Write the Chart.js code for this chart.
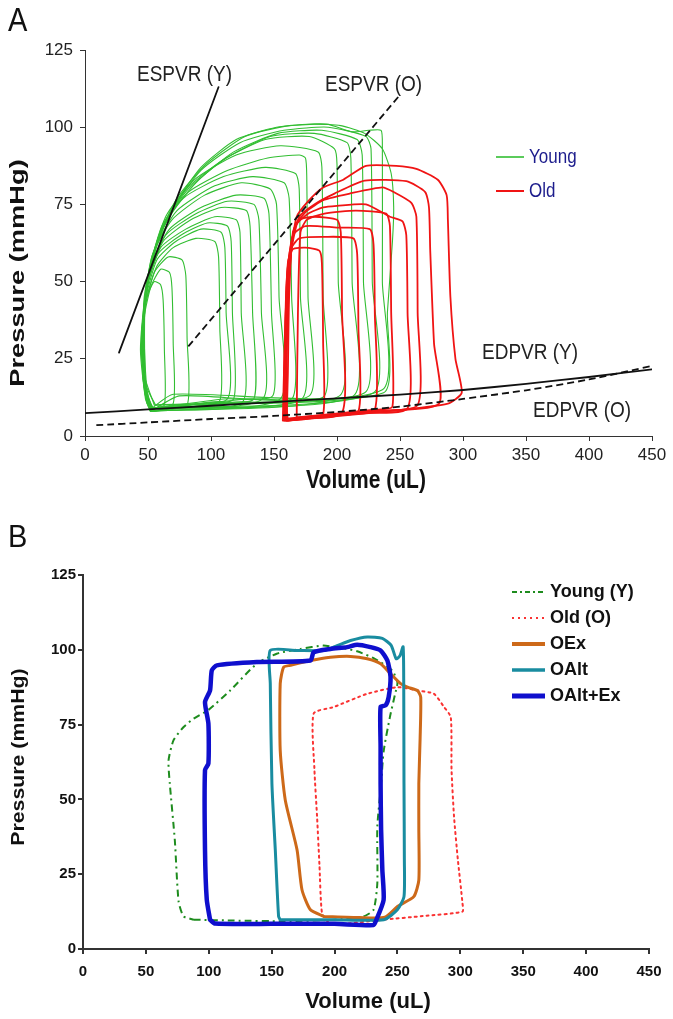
<!DOCTYPE html>
<html>
<head>
<meta charset="utf-8">
<title>PV loops</title>
<script src="https://cdn.jsdelivr.net/npm/chart.js@4.4.1/dist/chart.umd.min.js"></script>
<style>
  html, body { margin: 0; padding: 0; background: #fff; }
  #wrap { position: relative; width: 673px; height: 1019px; }
  canvas { position: absolute; left: 0; top: 0; }
</style>
</head>
<body>
<div id="wrap">
  <canvas id="chartA" width="673" height="1019"></canvas>
  <canvas id="chartB" width="673" height="1019"></canvas>
</div>
<script>
'use strict';

// ---- axis ticks ----
const volTicks = [0, 50, 100, 150, 200, 250, 300, 350, 400, 450];
const pressTicks = [0, 25, 50, 75, 100, 125];

// ---- panel A : pressure-volume loops [volume uL, pressure mmHg] ----
const youngLoopsA = [
  [[52,9],[63,10],[63,28],[62,44],[60,49],[55,50],[49,45],[45,34],[46,19],[49,11],[52,9]],
  [[53,9],[70,10.5],[70,30],[69,48],[67,53],[60,54],[52,48],[46,36],[46,19],[50,11],[53,9]],
  [[52,8],[81,10],[81,32],[80,52],[77,57],[66,58],[55,53],[47,40],[46,21],[49,11],[52,8]],
  [[54,9],[80,10],[107,11.5],[107,35],[106,58],[103,63],[88,64],[70,61],[57,55],[48,43],[45,26],[49,12],[54,9]],
  [[53,9],[113,12],[112,40],[111,61],[108,66],[92,67],[72,63],[57,57],[47,42],[46,22],[50,11],[53,9]],
  [[52,8],[90,10.5],[118,12],[117,40],[116,63],[113,68],[97,69],[76,65],[58,59],[48,46],[44,28],[48,12],[52,8]],
  [[54,9],[125,11],[124,40],[123,66],[120,70],[103,71],[80,67],[60,61],[49,48],[45,30],[48,13],[54,9]],
  [[53,8],[100,11],[134,12],[133,40],[131,68],[128,73],[108,74],[84,70],[62,63],[50,50],[45,32],[48,14],[53,8]],
  [[52,8],[141,12],[140,40],[138,70],[134,75],[113,76],[88,72],[64,65],[51,52],[46,34],[48,14],[52,8]],
  [[54,9],[110,12],[149,13],[148,40],[146,72],[142,77],[120,78],[92,74],[67,67],[52,55],[46,36],[48,15],[54,9]],
  [[53,8],[155,12],[154,45],[152,75],[147,80],[124,82],[95,78],[69,70],[53,58],[46,38],[48,15],[53,8]],
  [[52,8],[120,11],[165,12.5],[164,45],[162,77],[158,82],[133,84],[103,81],[73,73],[56,61],[47,41],[48,15],[52,8]],
  [[53,9],[172,12],[171,45],[170,80],[167,85],[143,87],[110,84],[78,77],[59,65],[48,45],[48,17],[53,9]],
  [[52,8],[75,13],[178,13],[177,45],[176,84],[175,90],[170,91],[145,90],[113,86],[82,79],[61,68],[49,49],[46,24],[52,8]],
  [[53,9],[130,12],[190,13],[189,45],[188,87],[185,92],[155,94],[120,91],[87,83],[64,71],[51,53],[46,30],[49,12],[53,9]],
  [[52,8],[202,13],[201,50],[200,88],[198,93],[178,97],[143,96],[108,89],[78,79],[60,66],[48,46],[46,22],[52,8]],
  [[53,9],[213,13],[212,50],[211,90],[208,95],[182,98],[147,97],[112,90],[82,80],[62,68],[49,50],[46,27],[50,11],[53,9]],
  [[53,9],[70,13.5],[222,14],[221,50],[220,91],[216,96],[188,99],[153,98],[118,92],[88,82],[65,70],[51,53],[45,31],[49,11],[53,9]],
  [[54,9],[229,14],[228,50],[227,93],[223,97],[193,100],[158,99],[123,95],[92,86],[69,73],[53,58],[46,37],[48,14],[54,9]],
  [[55,10],[236,15],[236,50],[236,94],[235,99],[225,99],[212,98.5],[192,101],[162,100.5],[127,97],[96,88],[73,77],[57,63],[47,45],[47,20],[55,10]],
  [[56,10],[237,14],[240,40],[244,63],[245,74],[243,85],[236,93],[222,98],[203,100.5],[182,101],[152,100],[120,96],[92,87],[70,74],[56,61],[47,41],[49,16],[56,10]]
];

const oldLoopsA = [
  [[160,5],[175,5.5],[189,7],[189,30],[188,56],[186,60],[175,61],[165,60.5],[161,56],[159,35],[158,12],[160,5]],
  [[161,5],[190,6.5],[217,8],[217,35],[216,59],[213,64],[190,64.5],[170,64],[163,60],[160,40],[159,15],[161,5]],
  [[158,5],[200,7],[230,8.5],[230,40],[229,62],[226,67],[200,67.5],[175,68],[165,65],[160,50],[158,15],[158,5]],
  [[160,5.5],[204,7.5],[204,40],[203,66],[200,70],[182,71],[170,70],[165,66],[162,45],[161,20],[160,5.5]],
  [[168,6],[230,8.5],[244,9.5],[243,40],[242,68],[239,72],[215,73],[190,72],[176,70],[171,66],[169,40],[168,6]],
  [[157,5],[210,7.5],[256,9],[256,40],[255,65],[252,69.5],[242,71],[223,75],[200,74.5],[189,74],[177,72],[167,68],[161,55],[158,22],[157,5]],
  [[158,5.5],[220,8],[264,10],[264,40],[263,71],[259,75.5],[245,79],[236,80.5],[210,78.5],[190,76.5],[175,72.5],[166,67],[161,45],[158,15],[158,5.5]],
  [[159,5],[230,8],[281,10.5],[277,30],[274,60],[273,74],[270,79],[255,82.5],[222,82.7],[198,78.5],[182,75],[170,71],[163,58],[160,30],[159,5]],
  [[160,5],[240,8],[288,10.5],[299,14],[294,25],[290,45],[288,70],[287,78],[280,83],[263,86.5],[247,87.5],[223,87.5],[205,83],[189,80.5],[177,76],[168,71],[163,58],[160,25],[160,5]]
];

const espvrY = [[27,27],[106,113]];
const espvrO = [[82,29],[249,110]];
const edpvrY = [[0,7.4],[50,8.6],[100,9.8],[150,11],[200,12.2],[250,13.4],[300,14.9],[350,16.9],[400,19.1],[450,21.6]];
const edpvrO = [[9,3.5],[50,4.4],[100,5.5],[150,6.5],[200,7.8],[250,9.5],[300,12],[350,14.8],[400,18.3],[450,22.7]];

// ---- panel B : representative loops ----
const youngB = [[88,9.8],[120,9.5],[160,9.3],[200,9.8],[223,10.9],[231,13.1],[234,22],[234,41],[237,55],[239,66],[244,77.5],[248,85],[250,89],[246,93],[232,97],[218,99.5],[207,100.5],[191,101.4],[173,100.3],[154,98.7],[138,95.3],[117,86.4],[100,80],[88,77],[80,74.2],[72,69.8],[68,63],[69,55.3],[73,36.4],[76,15.9],[80,10.9],[88,9.8]];
const oldB = [[202,8.1],[239,9.8],[270,11],[301.7,12.5],[301.7,15.3],[298,30],[295,44.2],[293,60],[292.4,77.5],[287,80.9],[279,85.3],[266,86.4],[250,87.5],[226,85.3],[199.4,80.9],[183.4,78.7],[184,60],[186.1,44.2],[188,28],[190,12],[195,9],[202,8.1]];
const oexB = [[191.4,10.9],[220,10.5],[240,10.6],[250,14.2],[263,17.5],[267,23],[267,40],[267,55.3],[268,70],[268.5,84.2],[265.8,86.4],[258,87.5],[252.5,88.7],[244.5,92],[236.6,95.3],[226,97],[212.7,97.8],[196.7,97.5],[180.8,96.4],[164.8,94.8],[159.5,94.2],[156.8,88.7],[156.8,66.4],[160.8,49.8],[170.2,33.1],[174.1,19.8],[180.8,13.1],[191.4,10.9]];
const oaltB = [[156.8,9.8],[200,9.8],[239.2,9.8],[249.9,13.1],[255.2,17.5],[255.5,30],[255.2,55.3],[255,88.7],[254.5,101],[252,98],[249,97],[245,101.5],[238,103.8],[226,104.3],[212.7,103.1],[202,101.4],[191.4,99.8],[170,99.8],[148.9,99.8],[148.9,88.7],[150.2,55.3],[152.9,33],[155.5,10.9],[156.8,9.8]];
const oaltExB = [[101,9.8],[105,8.5],[150,8.4],[200,8.4],[231,8],[233,9.5],[239,16.4],[238,26.4],[237,40],[236.6,55.3],[236.6,67.5],[236.6,80.9],[240.6,81.4],[243,84.2],[244.5,90.9],[242,96.4],[236.6,99.8],[228.6,100.9],[218,101.7],[210,100.9],[196.7,100.3],[183.4,99.2],[180.8,96.4],[138.3,95.9],[106.4,94.8],[102.4,93.1],[101,86.4],[97,82.5],[99.7,75.3],[99.7,62],[97,59.8],[97,33],[98.4,16.5],[101,9.8]];

const FONT = '"Liberation Sans", Arial, Helvetica, sans-serif';

function pts(arr) { return arr.map(p => ({ x: p[0], y: p[1] })); }

function line(data, color, width, extra) {
  return Object.assign({
    data: pts(data), showLine: true, borderColor: color, borderWidth: width,
    pointRadius: 0, fill: false, tension: 0.2, borderJoinStyle: 'round', borderCapStyle: 'round'
  }, extra || {});
}

// text with optional stretch / rotation
function txt(ctx, s, x, y, o) {
  ctx.save();
  ctx.translate(x, y);
  if (o.rot) ctx.rotate(o.rot);
  ctx.scale(o.sx || 1, o.sy || 1);
  ctx.font = o.font;
  ctx.fillStyle = o.color || '#111';
  ctx.textAlign = o.align || 'left';
  ctx.textBaseline = 'middle';
  ctx.fillText(s, 0, 0);
  ctx.restore();
}

function legendLine(ctx, x1, x2, y, color, width, dash) {
  ctx.save();
  ctx.strokeStyle = color;
  ctx.lineWidth = width;
  ctx.setLineDash(dash || []);
  ctx.beginPath();
  ctx.moveTo(x1, y);
  ctx.lineTo(x2, y);
  ctx.stroke();
  ctx.restore();
}

function axes(o) {
  const common = {
    type: 'linear',
    border: { display: true, color: o.axisColor, width: o.axisWidth },
    grid: { display: true, drawOnChartArea: false, drawTicks: true, tickLength: 5, color: o.axisColor, lineWidth: o.axisWidth },
    title: { display: false }
  };
  return {
    x: Object.assign({}, common, {
      min: 0, max: 450,
      afterBuildTicks: s => { s.ticks = volTicks.map(v => ({ value: v })); },
      afterFit: s => { s.height = 40; },
      ticks: { font: o.tickFont, color: o.tickColor, padding: o.xPad, maxRotation: 0 }
    }),
    y: Object.assign({}, common, {
      min: 0, max: 125,
      afterBuildTicks: s => { s.ticks = pressTicks.map(v => ({ value: v })); },
      afterFit: s => { s.width = o.yWidth; },
      ticks: { font: o.tickFont, color: o.tickColor, padding: o.yPad }
    })
  };
}

// ---- chart A ----
const dsA = [];
dsA.push(line(espvrY, '#111', 1.8, { order: 1, tension: 0 }));
dsA.push(line(espvrO, '#111', 1.8, { order: 1, tension: 0, borderDash: [7, 4], borderCapStyle: 'butt' }));
dsA.push(line(edpvrY, '#111', 1.8, { order: 1 }));
dsA.push(line(edpvrO, '#111', 1.8, { order: 1, borderDash: [7, 4], borderCapStyle: 'butt' }));
oldLoopsA.forEach(l => dsA.push(line(l, 'rgb(240,20,20)', 1.8, { order: 2 })));
youngLoopsA.forEach(l => dsA.push(line(l, 'rgb(50,190,50)', 1.1, { order: 3 })));

const textA = {
  id: 'textA',
  afterDraw(chart) {
    const c = chart.ctx;
    txt(c, 'A', 8, 22, { font: '29px ' + FONT, sy: 1.15, color: '#111' });
    const f = '19px ' + FONT;
    txt(c, 'ESPVR (Y)', 137, 75, { font: f, sy: 1.2, color: '#222' });
    txt(c, 'ESPVR (O)', 325, 85, { font: f, sy: 1.2, color: '#222' });
    txt(c, 'EDPVR (Y)', 482, 353, { font: f, sy: 1.2, color: '#222' });
    txt(c, 'EDPVR (O)', 533, 411, { font: f, sy: 1.2, color: '#222' });
    txt(c, 'Pressure (mmHg)', 18, 273, { font: 'bold 21px ' + FONT, rot: -Math.PI / 2, sx: 1.3, align: 'center', color: '#111' });
    txt(c, 'Volume (uL)', 366, 481, { font: 'bold 21px ' + FONT, sy: 1.2, align: 'center', color: '#111' });
    legendLine(c, 496, 524, 157, 'rgb(50,190,50)', 1.6);
    legendLine(c, 496, 524, 191, 'rgb(240,20,20)', 2);
    txt(c, 'Young', 529, 157, { font: '17px ' + FONT, sy: 1.2, color: '#1c1c8c' });
    txt(c, 'Old', 529, 191, { font: '17px ' + FONT, sy: 1.2, color: '#1c1c8c' });
  }
};

new Chart(document.getElementById('chartA'), {
  type: 'scatter',
  data: { datasets: dsA },
  options: {
    responsive: false, animation: false, events: [],
    layout: { padding: { left: 0, top: 50, right: 21, bottom: 1019 - 476 } },
    plugins: { legend: { display: false }, tooltip: { enabled: false } },
    scales: axes({
      axisColor: '#333', axisWidth: 1, tickColor: '#222',
      tickFont: { family: FONT, size: 17 }, xPad: 4, yPad: 7, yWidth: 85
    })
  },
  plugins: [textA]
});

// ---- chart B ----
const dsB = [
  line(oaltExB, 'rgb(15,15,205)', 4.5, { order: 1 }),
  line(oaltB, 'rgb(25,140,160)', 3, { order: 2 }),
  line(oexB, 'rgb(205,105,25)', 3, { order: 3 }),
  line(oldB, 'rgb(250,50,50)', 2, { order: 4, borderDash: [2, 4] }),
  line(youngB, 'rgb(30,140,30)', 2, { order: 5, borderDash: [7, 4, 2, 4], borderCapStyle: 'butt' })
];

const textB = {
  id: 'textB',
  afterDraw(chart) {
    const c = chart.ctx;
    txt(c, 'B', 8, 538, { font: '29px ' + FONT, sy: 1.1, color: '#111' });
    txt(c, 'Pressure (mmHg)', 19, 757, { font: 'bold 19px ' + FONT, rot: -Math.PI / 2, sx: 1.12, align: 'center', color: '#111' });
    txt(c, 'Volume (uL)', 368, 1002, { font: 'bold 22px ' + FONT, align: 'center', color: '#111' });
    const rows = [
      ['Young (Y)', 'rgb(30,140,30)', 2, [5, 3, 2, 3]],
      ['Old (O)', 'rgb(250,50,50)', 2, [2, 4]],
      ['OEx', 'rgb(205,105,25)', 4, null],
      ['OAlt', 'rgb(25,140,160)', 3.5, null],
      ['OAlt+Ex', 'rgb(15,15,205)', 5, null]
    ];
    const ys = [592, 618, 644, 670, 696];
    rows.forEach((r, i) => {
      legendLine(c, 512, 545, ys[i], r[1], r[2], r[3]);
      txt(c, r[0], 550, ys[i], { font: 'bold 18px ' + FONT, color: '#111' });
    });
  }
};

new Chart(document.getElementById('chartB'), {
  type: 'scatter',
  data: { datasets: dsB },
  options: {
    responsive: false, animation: false, events: [],
    layout: { padding: { left: 0, top: 575, right: 24, bottom: 1019 - 989 } },
    plugins: { legend: { display: false }, tooltip: { enabled: false } },
    scales: axes({
      axisColor: '#333', axisWidth: 2, tickColor: '#111',
      tickFont: { family: FONT, size: 15, weight: 'bold' }, xPad: 9, yPad: 2, yWidth: 83
    })
  },
  plugins: [textB]
});
</script>
</body>
</html>
